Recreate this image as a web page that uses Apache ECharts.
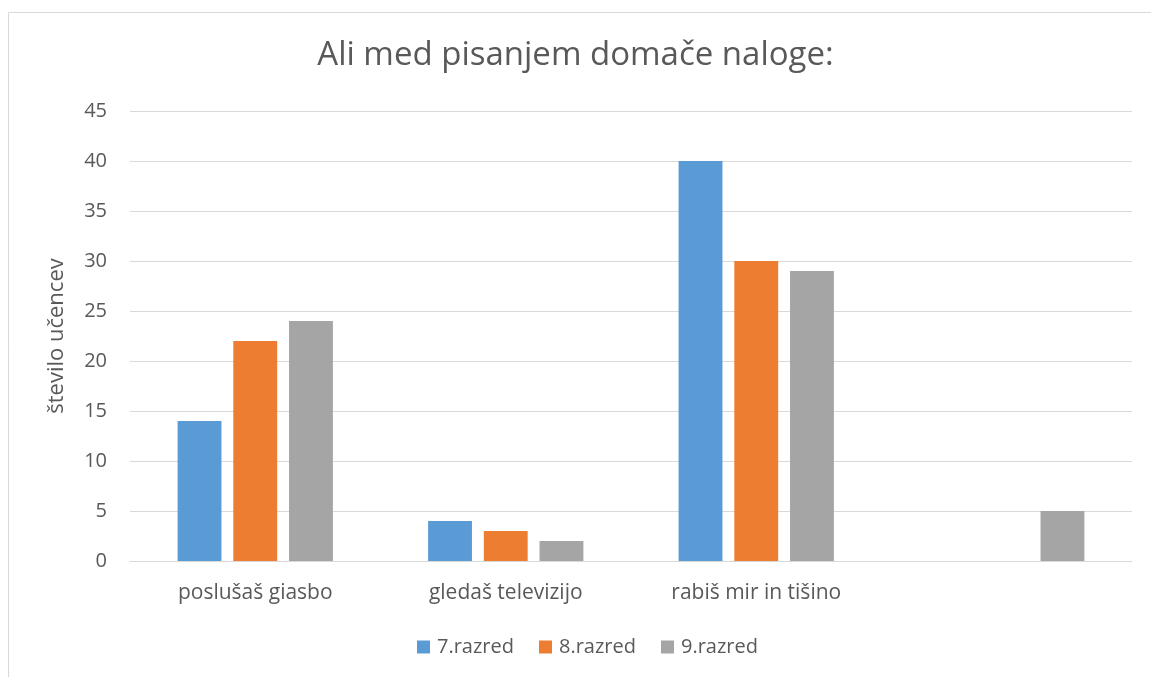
<!DOCTYPE html>
<html><head><meta charset="utf-8">
<script src="https://cdn.jsdelivr.net/npm/echarts@6/dist/echarts.min.js"></script>
<style>html,body{margin:0;padding:0;background:#fff}#c{width:1151px;height:677px}</style>
</head><body><div id="c"></div>
<script>
const categories = ['poslušaš giasbo', 'gledaš televizijo', 'rabiš mir in tišino', ''];
const seriesNames = ['7.razred', '8.razred', '9.razred'];
const razred7 = [14, 4, 40, null];
const razred8 = [22, 3, 30, null];
const razred9 = [24, 2, 29, 5];
const colors = ['#5B9BD5', '#ED7D31', '#A5A5A5'];
const font = '"Open Sans", "Liberation Sans", sans-serif';
const chart = echarts.init(document.getElementById('c'));
const seriesData = [razred7, razred8, razred9];
chart.setOption({
  animation: false,
  graphic: [{type: 'rect', shape: {x: 8.5, y: 12.5, width: 1200, height: 700}, style: {fill: 'none', stroke: '#D9D9D9', lineWidth: 1}, silent: true}],
  title: {text: 'Ali med pisanjem domače naloge:', left: 'center', top: 34,
    textStyle: {fontFamily: font, fontSize: 33, fontWeight: 'normal', color: '#595959'}},
  grid: {left: 130, right: 19, top: 111, bottom: 116},
  legend: {bottom: 15, left: 412, itemWidth: 13, itemHeight: 13, itemGap: 25,
    icon: 'rect', textStyle: {fontFamily: font, fontSize: 20, color: '#595959', padding: [0, 0, 0, 2]}},
  xAxis: {type: 'category', data: categories,
    axisLine: {lineStyle: {color: '#D9D9D9'}}, axisTick: {show: false},
    axisLabel: {fontFamily: font, fontSize: 21, color: '#595959', margin: 22}},
  yAxis: {type: 'value', min: 0, max: 45, interval: 5,
    name: 'število učencev', nameLocation: 'middle', nameGap: 62, nameRotate: 90,
    nameTextStyle: {fontFamily: font, fontSize: 22, color: '#595959'},
    axisLine: {show: false}, axisTick: {show: false},
    axisLabel: {fontFamily: font, fontSize: 20, color: '#595959', margin: 23},
    splitLine: {lineStyle: {color: '#D9D9D9'}}},
  series: seriesNames.map((n, i) => ({
    name: n, type: 'bar', data: seriesData[i], barGap: '27%', barCategoryGap: '38%',
    itemStyle: {color: colors[i]}
  }))
});
</script></body></html>
